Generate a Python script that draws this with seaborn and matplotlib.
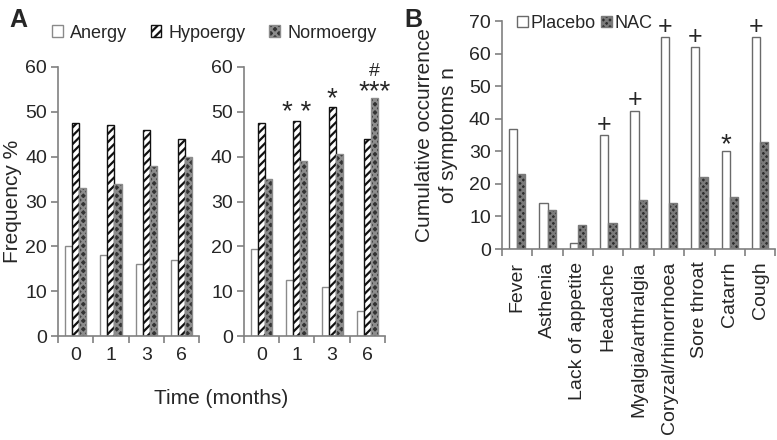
import numpy as np
import pandas as pd
import matplotlib.pyplot as plt
import seaborn as sns
from matplotlib.patches import Patch

# Panel A data (frequency %)
months = ['0', '1', '3', '6']
groups = ['Anergy', 'Hypoergy', 'Normoergy']
left_anergy = [20, 18, 16, 17]
left_hypo = [47.5, 47, 46, 44]
left_normo = [33, 34, 38, 40]
right_anergy = [19.5, 12.5, 11, 5.5]
right_hypo = [47.5, 48, 51, 44]
right_normo = [35, 39, 40.5, 53]

# Panel B data (cumulative occurrence)
symptoms = ['Fever', 'Asthenia', 'Lack of appetite', 'Headache', 'Myalgia/arthralgia',
            'Coryzal/rhinorrhoea', 'Sore throat', 'Catarrh', 'Cough']
placebo = [37, 14, 2, 35, 42.5, 65, 62, 30, 65]
nac = [23, 12, 7.5, 8, 15, 14, 22, 16, 33]
b_marks = ['', '', '', '+', '+', '+', '+', '*', '+']

sns.set_style('white')
plt.rcParams['font.family'] = ['Liberation Sans', 'DejaVu Sans']
plt.rcParams['hatch.linewidth'] = 1.6

styles = {
    'Anergy': dict(facecolor='white', edgecolor='#8a8a8a', hatch=''),
    'Hypoergy': dict(facecolor='white', edgecolor='#111111', hatch='////'),
    'Normoergy': dict(facecolor='#333333', edgecolor='#8c8c8c', hatch='xxxx'),
    'Placebo': dict(facecolor='white', edgecolor='#6a6a6a', hatch=''),
    'NAC': dict(facecolor='#2e2e2e', edgecolor='#7a7a7a', hatch='xxxxx'),
}


def long_df(cats, series, names, catname):
    rows = []
    for name, vals in zip(names, series):
        for c, v in zip(cats, vals):
            rows.append({catname: c, 'group': name, 'value': v})
    return pd.DataFrame(rows)


def style_axes(ax, n, ymax, step, xsize=14):
    ax.set_xlim(-0.5, n - 0.5)
    ax.set_ylim(0, ymax)
    ax.set_yticks(np.arange(0, ymax + 1, step))
    ax.set_xlabel('')
    ax.set_ylabel('')
    for s in ['top', 'right']:
        ax.spines[s].set_visible(False)
    for s in ['left', 'bottom']:
        ax.spines[s].set_color('#808080')
        ax.spines[s].set_linewidth(1.2)
    ax.tick_params(axis='y', length=5, color='#808080', width=1.2, labelsize=14, pad=3, left=True)
    ax.tick_params(axis='x', which='major', length=0, labelsize=xsize, pad=8)
    ax.set_xticks(np.arange(-0.5, n), minor=True)
    ax.tick_params(axis='x', which='minor', length=5, color='#808080', width=1.2, bottom=True)


def draw(ax, df, catname, order, hue_order, width):
    sns.barplot(data=df, x=catname, y='value', hue='group', order=order,
                hue_order=hue_order, ax=ax, width=width, gap=0, legend=False,
                palette=['white'] * len(hue_order), linewidth=1.0)
    for name, cont in zip(hue_order, ax.containers):
        for p in cont:
            p.set_facecolor(styles[name]['facecolor'])
            p.set_edgecolor(styles[name]['edgecolor'])
            p.set_hatch(styles[name]['hatch'])


def mark(ax, p, txt, dy, size):
    # text placed on the bar top, shifted by dy points (baseline)
    ax.annotate(txt, xy=(p.get_x() + p.get_width() / 2, p.get_height()),
                xytext=(0, dy), textcoords='offset points',
                ha='center', va='baseline', fontsize=size)


fig = plt.figure(figsize=(7.77, 4.40), dpi=100)
axA1 = fig.add_axes([0.0747, 0.236, 0.1815, 0.612])
axA2 = fig.add_axes([0.314, 0.236, 0.1815, 0.612])
axB = fig.add_axes([0.646, 0.434, 0.352, 0.518])

dfL = long_df(months, [left_anergy, left_hypo, left_normo], groups, 'month')
dfR = long_df(months, [right_anergy, right_hypo, right_normo], groups, 'month')
dfB = long_df(symptoms, [placebo, nac], ['Placebo', 'NAC'], 'symptom')

draw(axA1, dfL, 'month', months, groups, 0.6)
draw(axA2, dfR, 'month', months, groups, 0.6)
draw(axB, dfB, 'symptom', symptoms, ['Placebo', 'NAC'], 0.54)

style_axes(axA1, 4, 60, 10)
style_axes(axA2, 4, 60, 10)
style_axes(axB, 9, 70, 10, xsize=14)
axB.tick_params(axis='x', which='major', labelrotation=90, pad=9)

axA1.set_ylabel('Frequency %', fontsize=15, labelpad=2)
axB.set_ylabel('Cumulative occurrence\nof symptoms n', fontsize=15, labelpad=8,
               linespacing=1.3)
fig.text(0.285, 0.095, 'Time (months)', ha='center', va='center', fontsize=15)

# significance marks on panel A right
hypo_bars = axA2.containers[1]
normo_bars = axA2.containers[2]
mark(axA2, hypo_bars[1], '* *', 0.5, 20)
mark(axA2, hypo_bars[2], '*', 0.5, 20)
mark(axA2, normo_bars[3], '***', -0.5, 20)
mark(axA2, normo_bars[3], '#', 16, 14)

# significance marks on panel B
for p, m in zip(axB.containers[0], b_marks):
    if m == '+':
        mark(axB, p, m, 2.5, 18)
    elif m:
        mark(axB, p, m, -0.5, 20)

# legends
handlesA = [Patch(**styles[g], linewidth=1.0, label=g) for g in groups]
fig.legend(handles=handlesA, loc='center left', bbox_to_anchor=(0.046, 0.925), ncol=3,
           frameon=False, fontsize=13, handlelength=0.6, handleheight=0.6,
           handletextpad=0.4, columnspacing=1.3)
handlesB = [Patch(**styles[g], linewidth=1.0, label=g) for g in ['Placebo', 'NAC']]
axB.legend(handles=handlesB, loc='center left', bbox_to_anchor=(0.03, 0.99), ncol=2,
           frameon=False, fontsize=13, handlelength=0.6, handleheight=0.6,
           handletextpad=0.15, columnspacing=0.3, borderaxespad=0)

fig.text(0.012, 0.955, 'A', fontsize=18, fontweight='bold', va='center')
fig.text(0.52, 0.955, 'B', fontsize=18, fontweight='bold', va='center')

fig.savefig('out.png', dpi=100)
